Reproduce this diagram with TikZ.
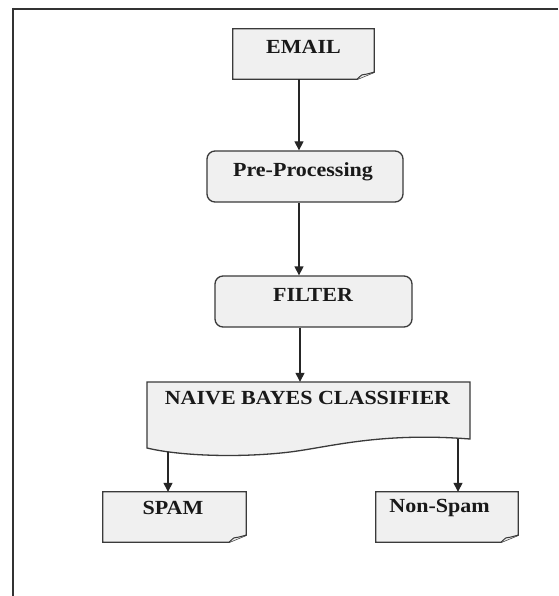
\documentclass[tikz,border=0pt]{standalone}
\usepackage{fontspec}
\usepackage{graphicx}
\setmainfont{Liberation Serif}
\usetikzlibrary{arrows.meta,calc}
\definecolor{boxfill}{HTML}{F0F0F0}
\definecolor{boxline}{HTML}{3A3A3A}
\newcommand{\drawfoldbox}[1]{%
  \draw[boxline,line width=1.3pt,fill=boxfill,line join=miter]
    (#1.north west) -- (#1.north east) -- ([yshift=7pt]#1.south east)
    -- ([xshift=-17pt]#1.south east) -- (#1.south west) -- cycle;
  \draw[boxline,line width=1pt,fill=white!85!gray]
    ([xshift=-17pt]#1.south east) .. controls ([xshift=-12pt,yshift=5pt]#1.south east) .. ([xshift=-8pt,yshift=5pt]#1.south east)
    -- ([yshift=7pt]#1.south east);
}
\newcommand{\wtxt}[1]{\scalebox{1.1}[1]{#1}}
\begin{document}
\begin{tikzpicture}[x=1pt,y=-1pt,
  slot/.style={draw=none,inner sep=0pt},
  rbox/.style={draw=boxline,line width=1.3pt,fill=boxfill,rounded corners=8pt,inner sep=0pt},
  txt/.style={inner sep=0pt,font=\fontsize{20}{22}\selectfont\bfseries,text=black!90},
  arr/.style={draw=black!85,line width=1.3pt,-{Triangle[length=9pt,width=9pt]}}]
\useasboundingbox (0,0) rectangle (558,596);
\fill[white] (0,0) rectangle (558,596);
% frame
\draw[black!80,line width=2pt] (558,9) -- (13,9);
\draw[black!80,line width=1.5pt] (13,8) -- (13,596);
% boxes
\node[slot,minimum width=141pt,minimum height=50pt] (email) at (303.5,54) {};
\drawfoldbox{email}
\node[txt] (emailt) at (303.5,47) {\wtxt{EMAIL}};
\node[rbox,minimum width=196pt,minimum height=51pt] (pre) at (305,176.5) {};
\node[txt] (pret) at (303,172) {\wtxt{Pre-Processing}};
\node[rbox,minimum width=197pt,minimum height=51pt] (filter) at (313.5,301.5) {};
\node[txt] (filtert) at (313,295) {\wtxt{FILTER}};
\node[slot,minimum width=323pt,minimum height=66pt] (nbc) at (308.5,415) {};
\draw[boxline,line width=1.3pt,fill=boxfill]
  (147,382) -- (470,382) -- (470,439)
  .. controls (380,432) and (330,447) .. (290,452)
  .. controls (240,458) and (180,456) .. (147,448) -- cycle;
\node[txt] (nbct) at (307.5,398) {\wtxt{NAIVE BAYES CLASSIFIER}};
\node[slot,minimum width=143pt,minimum height=50pt] (spam) at (174.5,517) {};
\drawfoldbox{spam}
\node[txt] (spamt) at (173,508) {\wtxt{SPAM}};
\node[slot,minimum width=142pt,minimum height=50pt] (non) at (447,517) {};
\drawfoldbox{non}
\node[txt] (nont) at (439.5,508) {\wtxt{Non-Spam}};
% connector guides
\coordinate (ax) at (299,0);
\coordinate (bx) at (300,0);
\coordinate (nbcL) at (168,452);
\coordinate (nbcR) at (458,439);
% connectors
\draw[arr] (email.south -| ax) -- (pre.north -| ax);
\draw[arr] (pre.south -| ax) -- (filter.north -| ax);
\draw[arr] (filter.south -| bx) -- (nbc.north -| bx);
\draw[arr] (nbcL) -- (spam.north -| nbcL);
\draw[arr] (nbcR) -- (non.north -| nbcR);
\end{tikzpicture}
\end{document}
